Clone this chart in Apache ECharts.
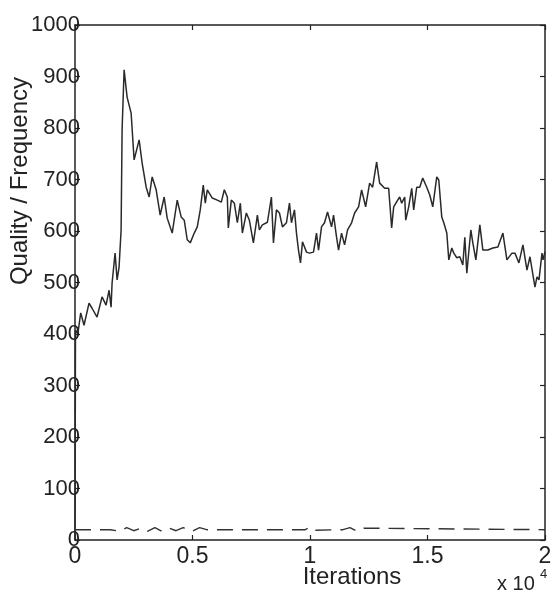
<!DOCTYPE html>
<html>
<head>
<meta charset="utf-8">
<script src="https://cdn.jsdelivr.net/npm/echarts@6/dist/echarts.min.js"></script>
<style>
html,body{margin:0;padding:0;background:#fff;}
#chart{width:557px;height:601px;}
</style>
</head>
<body>
<div id="chart"></div>
<script>
// Quality curve (solid)
const qualityIter = [0,20,120,243,384,597,725,938,1151,1322,1450,1535,1578,1706,1791,1876,1962,2004,2090,2217,2388,2516,2729,2857,3028,3156,3284,3454,3625,3795,3923,4136,4350,4520,4648,4776,4904,5075,5203,5330,5458,5544,5629,5842,6055,6226,6354,6482,6524,6652,6780,6908,7036,7122,7292,7420,7591,7761,7846,7974,8188,8358,8444,8572,8700,8827,8998,9126,9211,9339,9424,9510,9595,9680,9851,9979,10149,10277,10363,10490,10618,10746,10917,11002,11130,11215,11343,11471,11599,11770,11898,12068,12196,12367,12537,12665,12836,12964,13177,13347,13475,13561,13731,13817,13902,14030,14073,14200,14328,14413,14541,14670,14797,14968,15096,15224,15394,15480,15607,15693,15821,15906,16034,16119,16247,16375,16503,16588,16673,16844,16929,17058,17228,17356,17569,17782,17996,18209,18379,18593,18721,18890,19061,19232,19360,19573,19659,19744,19872,19915,20000];
const qualityVal = [0,408,400,441,417,460,450,433,472,456,485,452,499,557,505,530,602,796,913,860,829,738,777,732,685,666,705,680,631,666,625,596,660,627,621,583,577,596,608,641,689,654,680,664,660,656,680,666,606,660,654,616,654,596,635,621,577,631,602,612,617,666,577,641,635,608,616,654,616,641,596,563,538,579,559,557,559,596,563,608,616,637,608,631,588,563,596,573,602,616,635,647,680,647,693,685,734,693,683,683,606,647,660,666,654,666,621,647,683,641,685,685,703,685,670,647,705,699,627,616,596,544,567,557,548,550,534,588,518,602,577,544,612,563,563,567,569,596,544,557,557,538,573,524,550,491,511,505,557,544,560];
// Frequency curve (dashed)
const freqIter = [0,1500,1900,2200,2500,2800,3100,3400,3700,4000,4300,4600,5000,5300,5600,9800,10000,10200,11400,11700,12000,12300,20000];
const freqVal = [20,20,17,24,18,23,17,24,17,23,18,24,17,24,20,20,25,19,20,24,17,23,20];
// Axis ticks
const xTicks = [0, 0.5, 1, 1.5, 2];
const yTicks = [0,100,200,300,400,500,600,700,800,900,1000];

const FONT = '"Liberation Sans", Arial, sans-serif';
const TXT = '#222';
const chart = echarts.init(document.getElementById('chart'), null, {renderer: 'canvas'});

function zip(a, b) { return a.map((v, i) => [v, b[i]]); }

const axisCommon = {
  axisLine: {show: true, onZero: false, lineStyle: {color: '#222', width: 1.5}},
  axisTick: {show: true, inside: true, length: 5, lineStyle: {color: '#222', width: 1.2}},
  splitLine: {show: false}
};

chart.setOption({
  animation: false,
  backgroundColor: '#fff',
  grid: {left: 75, right: 12, top: 25, bottom: 61, containLabel: false},
  xAxis: [
    Object.assign({
      type: 'value', min: 0, max: 20000, interval: 5000, position: 'bottom',
      axisLabel: {margin: 5, fontSize: 23, fontFamily: FONT, color: TXT,
        formatter: v => { const t = v / 10000; return xTicks.includes(t) ? String(t) : ''; }}
    }, axisCommon),
    Object.assign({
      type: 'value', min: 0, max: 20000, interval: 5000, position: 'top',
      axisLabel: {show: false}
    }, axisCommon)
  ],
  yAxis: [
    Object.assign({
      type: 'value', min: 0, max: 1000, interval: 100, position: 'left',
      axisLabel: {margin: -5, fontSize: 22, fontFamily: FONT, color: TXT,
        formatter: v => yTicks.includes(v) ? String(v) : ''}
    }, axisCommon),
    Object.assign({
      type: 'value', min: 0, max: 1000, interval: 100, position: 'right',
      axisLabel: {show: false}
    }, axisCommon)
  ],
  series: [
    {
      type: 'line', xAxisIndex: 0, yAxisIndex: 0, symbol: 'none',
      data: zip(qualityIter, qualityVal),
      lineStyle: {color: '#2a2a2a', width: 1.5}
    },
    {
      type: 'line', xAxisIndex: 0, yAxisIndex: 0, symbol: 'none',
      data: zip(freqIter, freqVal),
      lineStyle: {color: '#333', width: 1.4, type: [16, 9]}
    }
  ],
  graphic: [
    {type: 'text', x: 20, y: 181, rotation: Math.PI / 2,
      style: {text: 'Quality / Frequency', font: '24px ' + FONT, fill: TXT, textAlign: 'center', textVerticalAlign: 'middle'}},
    {type: 'text', x: 352, y: 577,
      style: {text: 'Iterations', font: '24px ' + FONT, fill: TXT, textAlign: 'center', textVerticalAlign: 'middle'}},
    {type: 'text', x: 497, y: 584,
      style: {text: 'x 10', font: '20px ' + FONT, fill: TXT, textAlign: 'left', textVerticalAlign: 'middle'}},
    {type: 'text', x: 540, y: 574,
      style: {text: '4', font: '13px ' + FONT, fill: TXT, textAlign: 'left', textVerticalAlign: 'middle'}}
  ]
});
</script>
</body>
</html>
